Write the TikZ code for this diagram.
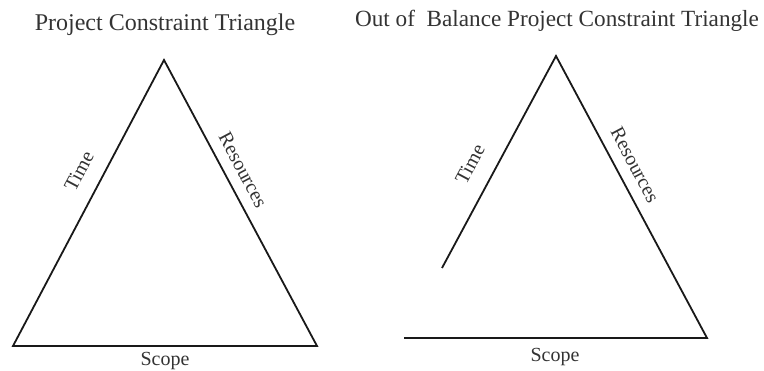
\documentclass[tikz,border=0pt]{standalone}
\usepackage{fontspec}
\setmainfont{Liberation Serif}
\usepackage{tikz}
\usetikzlibrary{positioning}

\tikzset{
  edge/.style={line width=1.8pt,black!90},
  side/.style={font=\fontsize{20}{24}\selectfont,text=black!80,inner sep=0pt},
  heading/.style={font=\fontsize{24}{28}\selectfont,text=black!80,inner sep=0pt}
}

\begin{document}
\begin{tikzpicture}[x=1pt,y=-1pt]
\useasboundingbox (0,0) rectangle (764,371);
% Balanced triangle
\coordinate (topL) at (164,60);
\coordinate (leftL) at (13,346);
\coordinate (rightL) at (317,346);
\node[heading] (titleL) at (165,25) {Project Constraint Triangle};
\draw[edge] (leftL) -- (topL) -- (rightL) -- cycle;
\node[side,rotate=62] (timeL) at (79,171) {Time};
\node[side,rotate=-62] (resL) at (243,170) {Resources};
\node[side] (scopeL) at (165,361) {Scope};
% Out of balance triangle
\coordinate (topR) at (556,56);
\coordinate (cutR) at (442,268);
\coordinate (rightR) at (707,338);
\coordinate (leftR) at (404,338);
\node[heading,font=\fontsize{23.2}{28}\selectfont] (titleR) at (557,21) {Out of\ \ Balance Project Constraint Triangle};
\draw[edge] (cutR) -- (topR) -- (rightR) -- (leftR);
\node[side,rotate=62] (timeR) at (470,164) {Time};
\node[side,rotate=-62] (resR) at (635,165) {Resources};
\node[side] (scopeR) at (555,357) {Scope};
\end{tikzpicture}
\end{document}
